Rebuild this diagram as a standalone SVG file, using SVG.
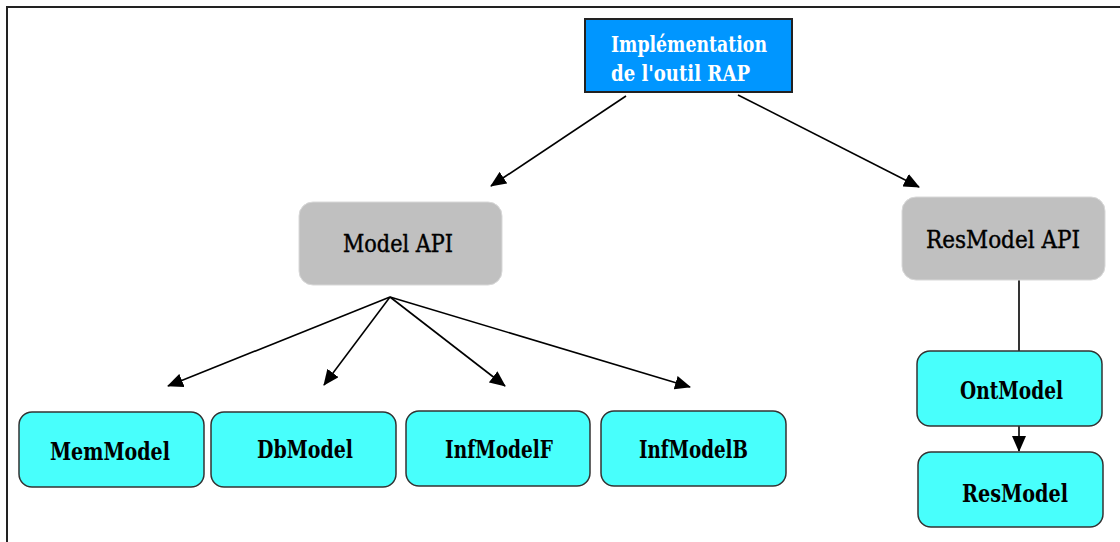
<svg xmlns="http://www.w3.org/2000/svg" width="1120" height="542" viewBox="0 0 1120 542">
<defs>
<style>
.frame{fill:none;stroke:#222;stroke-width:2}
.top{fill:#0096ff;stroke:#222;stroke-width:2}
.api{fill:#c0c0c0;stroke:#d8d8d8;stroke-width:1}
.leaf{fill:#48fffc;stroke:#333;stroke-width:1.5}
.t{font-family:"DejaVu Serif Condensed","DejaVu Serif","Liberation Serif",serif;font-size:24px;font-weight:bold;fill:#000}
.n{font-weight:normal;stroke:#000;stroke-width:0.4}
.tw{font-family:"DejaVu Serif Condensed","DejaVu Serif","Liberation Serif",serif;font-size:22px;font-weight:bold;fill:#fff}
.c{stroke:#000;stroke-width:1.6;fill:none}
</style>
<marker id="ah" markerUnits="userSpaceOnUse" markerWidth="16" markerHeight="14" refX="15" refY="7" orient="auto">
<path d="M0,0 L16,7 L0,14 Z" fill="#000"/>
</marker>
</defs>
<rect width="1120" height="542" fill="#fff"/>
<path class="frame" d="M7,542 V7 H1120"/>
<g id="connectors">
<line class="c" x1="626" y1="96" x2="491" y2="186" marker-end="url(#ah)"/>
<line class="c" x1="738" y1="95" x2="919" y2="187" marker-end="url(#ah)"/>
<line class="c" x1="390" y1="297" x2="168" y2="386" marker-end="url(#ah)"/>
<line class="c" x1="390" y1="297" x2="324" y2="385" marker-end="url(#ah)"/>
<line class="c" x1="390" y1="297" x2="505" y2="386" marker-end="url(#ah)"/>
<line class="c" x1="390" y1="297" x2="690" y2="387" marker-end="url(#ah)"/>
<line class="c" x1="1019" y1="280" x2="1019" y2="351"/>
<line class="c" x1="1019" y1="426" x2="1019" y2="451" marker-end="url(#ah)"/>
</g>
<g id="impl">
<rect class="top" x="585" y="19" width="207" height="73"/>
<text class="tw" x="611" y="52" textLength="156" lengthAdjust="spacingAndGlyphs">Implémentation</text>
<text class="tw" x="611" y="81" textLength="139" lengthAdjust="spacingAndGlyphs">de l'outil RAP</text>
</g>
<g id="modelapi">
<rect class="api" x="299" y="202" width="203" height="83" rx="14"/>
<text class="t n" x="343" y="252" textLength="110" lengthAdjust="spacingAndGlyphs">Model API</text>
</g>
<g id="resmodelapi">
<rect class="api" x="902" y="197" width="203" height="83" rx="14"/>
<text class="t n" x="926" y="248" textLength="154" lengthAdjust="spacingAndGlyphs">ResModel API</text>
</g>
<g id="memmodel">
<rect class="leaf" x="19" y="412" width="185" height="75" rx="13"/>
<text class="t" x="50" y="460" textLength="120" lengthAdjust="spacingAndGlyphs">MemModel</text>
</g>
<g id="dbmodel">
<rect class="leaf" x="211" y="412" width="185" height="75" rx="13"/>
<text class="t" x="257" y="458" textLength="96" lengthAdjust="spacingAndGlyphs">DbModel</text>
</g>
<g id="infmodelf">
<rect class="leaf" x="406" y="411" width="184" height="75" rx="13"/>
<text class="t" x="445" y="458" textLength="108" lengthAdjust="spacingAndGlyphs">InfModelF</text>
</g>
<g id="infmodelb">
<rect class="leaf" x="601" y="411" width="185" height="75" rx="13"/>
<text class="t" x="639" y="458" textLength="109" lengthAdjust="spacingAndGlyphs">InfModelB</text>
</g>
<g id="ontmodel">
<rect class="leaf" x="917" y="351" width="185" height="75" rx="13"/>
<text class="t" x="960" y="399" textLength="103" lengthAdjust="spacingAndGlyphs">OntModel</text>
</g>
<g id="resmodel">
<rect class="leaf" x="918" y="452" width="185" height="75" rx="13"/>
<text class="t" x="962" y="502" textLength="106" lengthAdjust="spacingAndGlyphs">ResModel</text>
</g>
</svg>
